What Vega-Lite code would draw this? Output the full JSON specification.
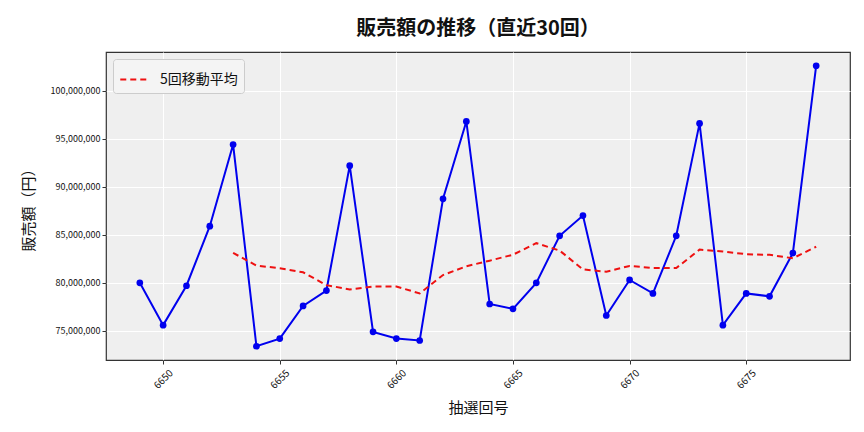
{
  "$schema": "https://vega.github.io/schema/vega-lite/v6.json",
  "width": 744,
  "height": 308,
  "autosize": {"type": "none"},
  "padding": {"left": 106, "top": 52, "right": 14, "bottom": 72},
  "background": "white",
  "title": {
    "text": "販売額の推移（直近30回）",
    "font": "Noto Sans CJK JP",
    "fontSize": 20,
    "fontWeight": "bold",
    "color": "#111",
    "anchor": "middle",
    "offset": 13
  },
  "config": {
    "font": "Noto Sans CJK JP",
    "view": {"fill": "#efefef", "stroke": "#333", "strokeWidth": 1.2},
    "axis": {
      "gridColor": "white",
      "gridWidth": 1,
      "domain": false,
      "tickColor": "#333",
      "tickSize": 4,
      "labelFont": "Noto Sans CJK JP",
      "labelFontSize": 9,
      "labelColor": "#111",
      "titleFont": "Noto Sans CJK JP",
      "titleFontSize": 15,
      "titleFontWeight": "normal",
      "titleColor": "#111"
    }
  },
  "datasets": {
    "sales": [
      {"draw": 6649, "value": 80000000},
      {"draw": 6650, "value": 75600000},
      {"draw": 6651, "value": 79700000},
      {"draw": 6652, "value": 85900000},
      {"draw": 6653, "value": 94400000},
      {"draw": 6654, "value": 73400000},
      {"draw": 6655, "value": 74200000},
      {"draw": 6656, "value": 77600000},
      {"draw": 6657, "value": 79200000},
      {"draw": 6658, "value": 92200000},
      {"draw": 6659, "value": 74900000},
      {"draw": 6660, "value": 74200000},
      {"draw": 6661, "value": 74000000},
      {"draw": 6662, "value": 88750000},
      {"draw": 6663, "value": 96800000},
      {"draw": 6664, "value": 77800000},
      {"draw": 6665, "value": 77300000},
      {"draw": 6666, "value": 80000000},
      {"draw": 6667, "value": 84900000},
      {"draw": 6668, "value": 87000000},
      {"draw": 6669, "value": 76600000},
      {"draw": 6670, "value": 80300000},
      {"draw": 6671, "value": 78900000},
      {"draw": 6672, "value": 84900000},
      {"draw": 6673, "value": 96600000},
      {"draw": 6674, "value": 75600000},
      {"draw": 6675, "value": 78900000},
      {"draw": 6676, "value": 78600000},
      {"draw": 6677, "value": 83100000},
      {"draw": 6678, "value": 102600000}
    ],
    "ma": [
      {"draw": 6653, "ma": 83120000, "series": "5回移動平均"},
      {"draw": 6654, "ma": 81800000, "series": "5回移動平均"},
      {"draw": 6655, "ma": 81520000, "series": "5回移動平均"},
      {"draw": 6656, "ma": 81100000, "series": "5回移動平均"},
      {"draw": 6657, "ma": 79760000, "series": "5回移動平均"},
      {"draw": 6658, "ma": 79320000, "series": "5回移動平均"},
      {"draw": 6659, "ma": 79620000, "series": "5回移動平均"},
      {"draw": 6660, "ma": 79620000, "series": "5回移動平均"},
      {"draw": 6661, "ma": 78900000, "series": "5回移動平均"},
      {"draw": 6662, "ma": 80810000, "series": "5回移動平均"},
      {"draw": 6663, "ma": 81730000, "series": "5回移動平均"},
      {"draw": 6664, "ma": 82310000, "series": "5回移動平均"},
      {"draw": 6665, "ma": 82930000, "series": "5回移動平均"},
      {"draw": 6666, "ma": 84130000, "series": "5回移動平均"},
      {"draw": 6667, "ma": 83360000, "series": "5回移動平均"},
      {"draw": 6668, "ma": 81400000, "series": "5回移動平均"},
      {"draw": 6669, "ma": 81160000, "series": "5回移動平均"},
      {"draw": 6670, "ma": 81760000, "series": "5回移動平均"},
      {"draw": 6671, "ma": 81540000, "series": "5回移動平均"},
      {"draw": 6672, "ma": 81540000, "series": "5回移動平均"},
      {"draw": 6673, "ma": 83460000, "series": "5回移動平均"},
      {"draw": 6674, "ma": 83260000, "series": "5回移動平均"},
      {"draw": 6675, "ma": 82980000, "series": "5回移動平均"},
      {"draw": 6676, "ma": 82920000, "series": "5回移動平均"},
      {"draw": 6677, "ma": 82560000, "series": "5回移動平均"},
      {"draw": 6678, "ma": 83760000, "series": "5回移動平均"}
    ]
  },
  "layer": [
    {
      "data": {"name": "sales"},
      "mark": {"type": "line", "color": "#0000ee", "strokeWidth": 2, "point": {"filled": true, "size": 45, "color": "#0000ee"}},
      "encoding": {
        "x": {
          "field": "draw", "type": "quantitative",
          "scale": {"domain": [6647.55, 6679.45], "nice": false, "zero": false},
          "axis": {"values": [6650, 6655, 6660, 6665, 6670, 6675], "format": "d", "labelAngle": -45, "labelAlign": "center", "labelBaseline": "middle", "labelPadding": 15, "labelFontSize": 10, "title": "抽選回号", "titlePadding": 10}
        },
        "y": {
          "field": "value", "type": "quantitative",
          "scale": {"domain": [71970000, 104030000], "nice": false, "zero": false},
          "axis": {"values": [75000000, 80000000, 85000000, 90000000, 95000000, 100000000], "format": ",d", "title": "販売額（円）", "titlePadding": 14}
        }
      }
    },
    {
      "data": {"name": "ma"},
      "mark": {"type": "line", "strokeWidth": 2, "strokeDash": [6, 4]},
      "encoding": {
        "x": {"field": "draw", "type": "quantitative"},
        "y": {"field": "ma", "type": "quantitative"},
        "color": {
          "field": "series", "type": "nominal",
          "scale": {"domain": ["5回移動平均"], "range": ["#ee1111"]},
          "legend": {
            "title": null,
            "orient": "top-left",
            "offset": 7,
            "padding": 6,
            "fillColor": "#f4f4f4",
            "strokeColor": "#ccc",
            "cornerRadius": 3,
            "symbolType": "stroke",
            "symbolStrokeWidth": 2,
            "symbolSize": 700,
            "symbolDash": [6, 4],
            "labelOffset": 12,
            "labelFontSize": 14,
            "labelFont": "Noto Sans CJK JP",
            "labelColor": "#111"
          }
        }
      }
    }
  ]
}
